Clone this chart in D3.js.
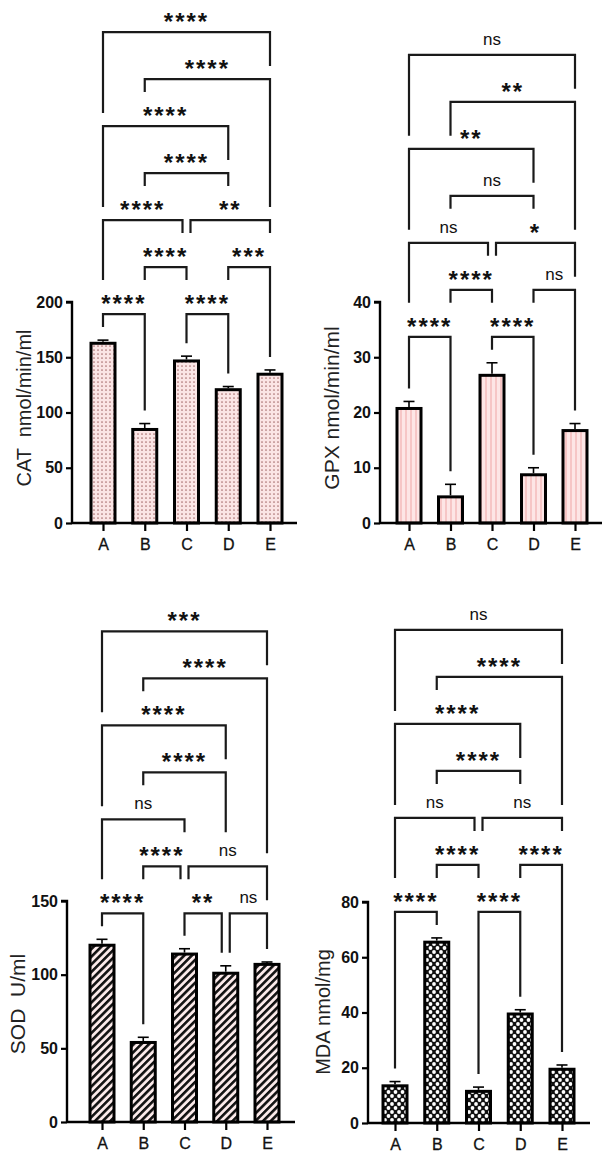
<!DOCTYPE html>
<html><head><meta charset="utf-8">
<script src="https://cdn.jsdelivr.net/npm/d3@7"></script>
<style>body{margin:0;background:#fff}svg{display:block}</style>
</head><body><svg id="c" width="610" height="1157"></svg>
<script>
// ---------- data ----------
const categories = ["A", "B", "C", "D", "E"];

const catValues = [164, 86, 148, 122, 136];
const catErrors = [1.5, 4, 3, 1.5, 2.5];
const catTicks = [0, 50, 100, 150, 200];

const gpxValues = [21, 5, 27, 9, 17];
const gpxErrors = [1, 2, 2, 1, 1];
const gpxTicks = [0, 10, 20, 30, 40];

const sodValues = [121, 55, 115, 102, 108];
const sodErrors = [3, 2.5, 2.6, 4, 0.6];
const sodTicks = [0, 50, 100, 150];

const mdaValues = [14, 66, 12, 40, 20];
const mdaErrors = [1, 1, 1, 1, 1];
const mdaTicks = [0, 20, 40, 60, 80];

// comparisons: [group 1, group 2, significance, tier]
const catComparisons = [["A","B","****",1],["C","D","****",1],["B","C","****",2],["D","E","***",2],
  ["A","C","****",3],["C","E","**",3],["B","D","****",4],["A","D","****",5],["B","E","****",6],["A","E","****",7]];
const gpxComparisons = [["A","B","****",1],["C","D","****",1],["B","C","****",2],["D","E","ns",2],
  ["A","C","ns",3],["C","E","*",3],["B","D","ns",4],["A","D","**",5],["B","E","**",6],["A","E","ns",7]];
const sodComparisons = [["A","B","****",1],["C","D","**",1],["D","E","ns",1],["B","C","****",2],["C","E","ns",2],
  ["A","C","ns",3],["B","D","****",4],["A","D","****",5],["B","E","****",6],["A","E","***",7]];
const mdaComparisons = [["A","B","****",1],["C","D","****",1],["B","C","****",2],["D","E","****",2],
  ["A","C","ns",3],["C","E","ns",3],["B","D","****",4],["A","D","****",5],["B","E","****",6],["A","E","ns",7]];

const yTitles = ["CAT  nmol/min/ml", "GPX nmol/min/ml", "SOD  U/ml", "MDA nmol/mg"];

// ---------- layout ----------
const FONT = "'Liberation Sans', Arial, Helvetica, sans-serif";
const svg = d3.select("#c");
svg.append("rect").attr("width", 610).attr("height", 1157).attr("fill", "#fff");

const defs = svg.append("defs");
// dotted pink
const pDots = defs.append("pattern").attr("id", "dots").attr("patternUnits", "userSpaceOnUse").attr("width", 4).attr("height", 4);
pDots.append("rect").attr("width", 4).attr("height", 4).attr("fill", "#fbe5e5");
pDots.append("circle").attr("cx", 2).attr("cy", 2).attr("r", 0.85).attr("fill", "#a87070");
// vertical pink stripes
const pV = defs.append("pattern").attr("id", "vstripes").attr("patternUnits", "userSpaceOnUse").attr("width", 5).attr("height", 5);
pV.append("rect").attr("width", 5).attr("height", 5).attr("fill", "#fde6e6");
pV.append("rect").attr("width", 2).attr("height", 5).attr("fill", "#f6c6c6");
// diagonal hatch
const pD = defs.append("pattern").attr("id", "diag").attr("patternUnits", "userSpaceOnUse").attr("width", 5.4).attr("height", 10)
  .attr("patternTransform", "rotate(45)");
pD.append("rect").attr("width", 5.4).attr("height", 10).attr("fill", "#fbeaea");
pD.append("rect").attr("width", 2.6).attr("height", 10).attr("fill", "#111");
// black with white diamonds
const pX = defs.append("pattern").attr("id", "cross").attr("patternUnits", "userSpaceOnUse").attr("width", 7).attr("height", 8);
pX.append("rect").attr("width", 7).attr("height", 8).attr("fill", "#111");
[[0,0],[7,0],[0,8],[7,8],[3.5,4]].forEach(([x,y]) =>
  pX.append("circle").attr("cx", x).attr("cy", y).attr("r", 1.9).attr("fill", "#fff"));

const panels = [
  {values: catValues, errors: catErrors, ticks: catTicks, comps: catComparisons, title: yTitles[0], fill: "url(#dots)",
   left: 72, xA: 103, xE: 270, right: 297, bottom: 523, top: 302, titleX: 24, titleY: 408, titleSize: 20},
  {values: gpxValues, errors: gpxErrors, ticks: gpxTicks, comps: gpxComparisons, title: yTitles[1], fill: "url(#vstripes)",
   left: 380, xA: 409, xE: 575, right: 602, bottom: 523, top: 302, titleX: 331, titleY: 408, titleSize: 21},
  {values: sodValues, errors: sodErrors, ticks: sodTicks, comps: sodComparisons, title: yTitles[2], fill: "url(#diag)",
   left: 67, xA: 102, xE: 267, right: 295, bottom: 1122, top: 901, titleX: 17, titleY: 1004, titleSize: 21},
  {values: mdaValues, errors: mdaErrors, ticks: mdaTicks, comps: mdaComparisons, title: yTitles[3], fill: "url(#cross)",
   left: 368, xA: 395, xE: 562, right: 590, bottom: 1123, top: 902, titleX: 323, titleY: 1012, titleSize: 20}
];

const BAR_W = 27, STROKE = 3, TIER_GAP = 47, LEG_GAP = 13;

panels.forEach(p => {
  const g = svg.append("g");
  const x = d3.scalePoint().domain(categories).range([p.xA, p.xE]);
  const y = d3.scaleLinear().domain([0, d3.max(p.ticks)]).range([p.bottom, p.top]);

  // bars (outer edge at value)
  categories.forEach((c, i) => {
    const xc = x(c), v = p.values[i];
    g.append("rect")
      .attr("x", xc - BAR_W / 2 + STROKE / 2).attr("y", y(v) + STROKE / 2)
      .attr("width", BAR_W - STROKE).attr("height", y(0) - y(v) - STROKE / 2)
      .attr("fill", p.fill).attr("stroke", "#000").attr("stroke-width", STROKE);
    // error bar (upward)
    const ye = y(v + p.errors[i]);
    g.append("line").attr("x1", xc).attr("x2", xc).attr("y1", y(v)).attr("y2", ye)
      .attr("stroke", "#000").attr("stroke-width", 1.6);
    g.append("line").attr("x1", xc - 5.5).attr("x2", xc + 5.5).attr("y1", ye).attr("y2", ye)
      .attr("stroke", "#000").attr("stroke-width", 1.6);
  });

  // axes
  const yAxis = d3.axisLeft(y).tickValues(p.ticks).tickSize(6).tickPadding(3).tickFormat(d3.format("d"));
  const ya = g.append("g").attr("transform", `translate(${p.left},0)`).call(yAxis);
  ya.select(".domain").attr("stroke-width", 2.4).attr("d", `M-6,${p.top}H0V${p.bottom}`);
  ya.selectAll(".tick line").attr("stroke-width", 2.2);
  ya.selectAll(".tick text").attr("font-family", FONT).attr("font-size", 16).attr("font-weight", "bold").attr("fill", "#111");

  const xAxis = d3.axisBottom(x).tickSize(8).tickPadding(8);
  const xa = g.append("g").attr("transform", `translate(0,${p.bottom})`).call(xAxis);
  xa.select(".domain").attr("stroke-width", 2.4).attr("d", `M${p.left},0H${p.right}`);
  xa.selectAll(".tick line").attr("stroke-width", 2.2);
  xa.selectAll(".tick text").attr("font-family", FONT).attr("font-size", 16).attr("fill", "#111")
    .attr("stroke", "#111").attr("stroke-width", 0.3);

  // y title
  g.append("text").attr("transform", `translate(${p.titleX},${p.titleY}) rotate(-90)`)
    .attr("text-anchor", "middle").attr("dominant-baseline", "central")
    .attr("font-family", FONT).attr("font-size", p.titleSize).attr("fill", "#222")
    .style("white-space", "pre").text(p.title);

  // ---- significance brackets ----
  const maxTop = d3.max(p.values.map((v, i) => v + p.errors[i]));
  const base = y(maxTop) - 26;
  const comps = p.comps.map(([a, b, lab, tier]) => {
    let x1 = x(a), x2 = x(b);
    const same = p.comps.filter(c => c[3] === tier);
    if (same.some(c => c[1] === a)) x1 += 4;
    if (same.some(c => c[0] === b)) x2 -= 4;
    return {x1, x2, lab, ly: base - (tier - 1) * TIER_GAP};
  });

  const obstacles = [];
  categories.forEach((c, i) => {
    obstacles.push({a: x(c) - BAR_W / 2, b: x(c) + BAR_W / 2, top: y(p.values[i] + p.errors[i])});
  });
  comps.forEach(c => {
    const isStar = c.lab.indexOf("*") >= 0;
    const cx = (c.x1 + c.x2) / 2;
    const t = g.append("text").attr("x", cx)
      .attr("y", isStar ? c.ly - 2 : c.ly - 10)
      .attr("text-anchor", "middle").attr("font-family", FONT).attr("fill", "#111")
      .attr("font-size", isStar ? 24 : 17).attr("font-weight", isStar ? "bold" : "normal")
      .attr("letter-spacing", isStar ? 2 : 0)
      .text(c.lab);
    const w = t.node().getComputedTextLength();
    obstacles.push({a: cx - w / 2 - 6, b: cx + w / 2 + 6, top: c.ly - 21});
    obstacles.push({a: c.x1, b: c.x2, top: c.ly});
    // just outside the bracket ends: keep clear of the label row
    obstacles.push({a: c.x1 - 5, b: c.x1 - 0.01, top: c.ly - 21});
    obstacles.push({a: c.x2 + 0.01, b: c.x2 + 5, top: c.ly - 21});
  });
  comps.forEach(c => {
    const legEnd = xv => {
      let best = Infinity;
      obstacles.forEach(o => { if (xv >= o.a && xv <= o.b && o.top > c.ly + 1 && o.top < best) best = o.top; });
      return best - LEG_GAP;
    };
    const e1 = legEnd(c.x1), e2 = legEnd(c.x2);
    g.append("path").attr("d", `M${c.x1},${e1}V${c.ly}H${c.x2}V${e2}`)
      .attr("fill", "none").attr("stroke", "#1a1a1a").attr("stroke-width", 2.2).attr("stroke-linejoin", "miter");
  });
});
</script></body></html>
